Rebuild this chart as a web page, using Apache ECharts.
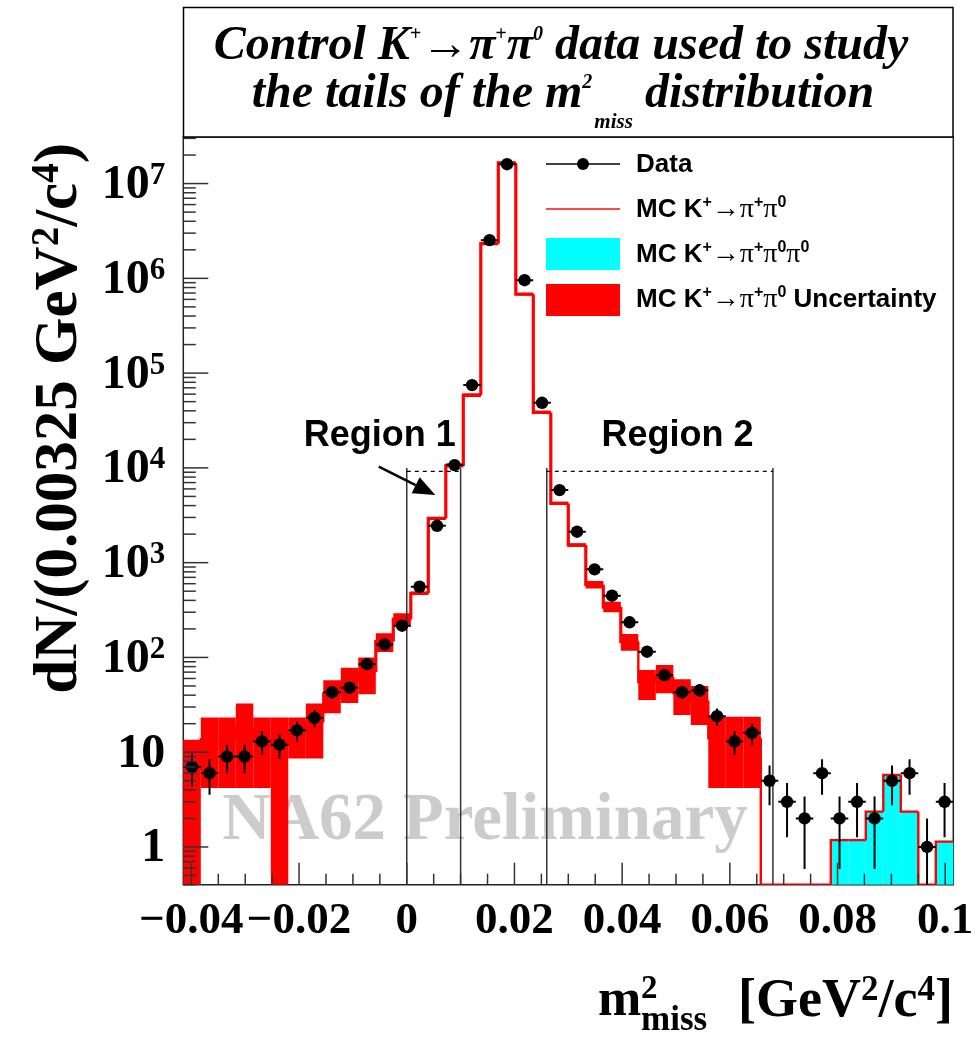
<!DOCTYPE html>
<html>
<head>
<meta charset="utf-8">
<title>NA62 K+ -> pi+ pi0 control data: m2_miss tails</title>
<script src="https://cdn.jsdelivr.net/npm/echarts@6/dist/echarts.min.js"></script>
<style>
  html, body { margin: 0; padding: 0; background: #ffffff; }
  #chart { width: 975px; height: 1037px; }
</style>
</head>
<body>
<div id="chart"></div>
<script>
// ---- Histogram binning (m2_miss, GeV^2/c^4) ----
const BIN_WIDTH = 0.00325;
const X_MIN = -0.0415;
const N_BINS = 44;
const X_MAX = X_MIN + N_BINS * BIN_WIDTH;
const Y_MIN = 0.4;
const Y_MAX = 3.1e7;

// ---- Data: entries per bin ----
const dataCounts = [
  7, 6, 9, 9, 13, 12, 17, 23, 43, 48,
  85, 137, 216, 557, 2450, 10700, 74700, 2530000, 16000000, 956000,
  48600, 5830, 2120, 850, 448, 235, 115, 65, 43, 45,
  24, 13, 16, 5, 3, 2, 6, 2, 3, 2,
  5, 6, 1, 3
];

// ---- MC K+ -> pi+ pi0 (central value per bin) ----
const mcPiPi0 = [
  6.5, 13.7, 13.7, 18.4, 13.7, 11.7, 16, 20.6, 41.6, 55,
  70, 147, 252, 475, 2930, 10500, 58600, 2330000, 16500000, 680000,
  38500, 4220, 1535, 585, 340, 147, 55, 62, 42, 35,
  14, 14, 14, 0, 0, 0, 0, 0, 0, 0,
  0, 0, 0, 0
];

// ---- MC K+ -> pi+ pi0 uncertainty band (lower / upper edge) ----
const mcUncLow = [
  0.1, 4.2, 4.2, 4.2, 4.2, 0.1, 8.6, 8.6, 25.7, 33,
  41, 114, 212, 455, 2850, 10200, 56000, 2250000, 16000000, 660000,
  37000, 4050, 1470, 535, 299, 118, 35.5, 41.8, 24.7, 19.4,
  4.2, 4.2, 4.2, 0, 0, 0, 0, 0, 0, 0,
  0, 0, 0, 0
];
const mcUncHigh = [
  13.5, 23.3, 23.3, 32.6, 23.3, 23.3, 23.3, 32.6, 57.6, 78,
  100, 180, 293, 495, 3010, 11200, 61000, 2410000, 17000000, 700000,
  40000, 4400, 1600, 640, 387, 177, 73.6, 83, 58.7, 49.9,
  23.7, 23.7, 23.7, 0, 0, 0, 0, 0, 0, 0,
  0, 0, 0, 0
];

// ---- MC K+ -> pi+ pi0 pi0 ----
const mcPiPi0Pi0 = [
  0, 0, 0, 0, 0, 0, 0, 0, 0, 0,
  0, 0, 0, 0, 0, 0, 0, 0, 0, 0,
  0, 0, 0, 0, 0, 0, 0, 0, 0, 0,
  0, 0, 0, 0, 0, 0, 0, 1.18, 1.18, 2.36,
  5.75, 2.36, 0, 1.14
];

// ---- Axis tick labels ----
const xTickLabels = [-0.04, -0.02, 0, 0.02, 0.04, 0.06, 0.08, 0.1];
const yTickLabels = [1, 10, 100, 1000, 10000, 100000, 1000000, 10000000];

// ---- Signal-region boundaries ----
const regionBounds = [[0, 0.01], [0.026, 0.068]];
const regionNames = ['Region 1', 'Region 2'];
const regionLabelPos = [[-0.005, 21600], [0.0503, 21600]];
const regionTop = 10000;
const regionDash = 9200;
const arrowFrom = [-0.0052, 10300];
const arrowTo = [0.0053, 5160];

// ---- Styling ----
const SERIF = '"Liberation Serif", "Times New Roman", Times, serif';
const SANS = '"Liberation Sans", Arial, Helvetica, sans-serif';
const RED = '#ff0000';
const CYAN = '#00ffff';

function binLo(i) { return X_MIN + i * BIN_WIDTH; }
function binHi(i) { return X_MIN + (i + 1) * BIN_WIDTH; }
function binCenter(i) { return X_MIN + (i + 0.5) * BIN_WIDTH; }

function pxX(api, x) { return api.coord([x, 1])[0]; }
function pxY(api, cs, v) {
  const bottom = cs.y + cs.height;
  if (!(v > 0)) return bottom;
  const p = api.coord([X_MIN, v])[1];
  return Math.max(cs.y, Math.min(bottom, p));
}

const mcTotal = mcPiPi0.map((v, i) => v + mcPiPi0Pi0[i]);

// Log-axis ticks: decades (major) and 2..9 (minor)
const yTicks = [];
for (let e = -1; e <= 7; e++) {
  for (let k = 1; k <= 9; k++) {
    const v = k * Math.pow(10, e);
    if (v >= Y_MIN * 0.999 && v <= Y_MAX) yTicks.push([X_MIN, v, k === 1 ? 1 : 0]);
  }
}
// Linear x ticks every 0.005, major every 0.02
const xTicks = [];
for (let j = -8; j <= 20; j++) {
  const v = j * 0.005;
  if (v >= X_MIN && v <= X_MAX) xTicks.push([v, Y_MIN, (j % 4 === 0) ? 1 : 0]);
}

const chart = echarts.init(document.getElementById('chart'), null, { renderer: 'canvas' });

const titleFont = { fontFamily: SERIF, fontStyle: 'italic', fontWeight: 'bold', fill: '#000' };
const legendRich = {
  a: { fontSize: 26, fontFamily: SANS, fontWeight: 'bold', fill: '#000', lineHeight: 30 },
  g: { fontSize: 28, fontFamily: SERIF, fill: '#000', lineHeight: 30 },
  s: { fontSize: 16, fontFamily: SANS, fontWeight: 'bold', fill: '#000', verticalAlign: 'top', lineHeight: 30 }
};

const option = {
  animation: false,
  backgroundColor: '#ffffff',
  grid: {
    left: 183.3, right: 21.7, top: 137, bottom: 152.3,
    show: true, borderColor: '#222', borderWidth: 1.5, backgroundColor: 'transparent'
  },
  xAxis: {
    type: 'value', min: X_MIN, max: X_MAX,
    axisLine: { show: false }, axisTick: { show: false },
    axisLabel: { show: false }, splitLine: { show: false }
  },
  yAxis: {
    type: 'log', logBase: 10, min: Y_MIN, max: Y_MAX,
    axisLine: { show: false }, axisTick: { show: false },
    axisLabel: { show: false }, splitLine: { show: false }
  },
  graphic: [
    // Watermark
    {
      type: 'text', z: 1, silent: true,
      x: 485, y: 822,
      style: {
        text: 'NA62 Preliminary', fill: '#cccccc',
        font: 'bold 67px ' + SERIF, align: 'center', verticalAlign: 'middle'
      }
    },
    // Title box
    {
      type: 'rect', z: 20, silent: true,
      shape: { x: 183.5, y: 7.5, width: 769.5, height: 129.5 },
      style: { fill: '#ffffff', stroke: '#000', lineWidth: 1.5 }
    },
    {
      type: 'text', z: 21, silent: true, x: 561, y: 47,
      style: {
        text: '{t|Control K}{s|+}{t|\u2192\u03c0}{s|+}{t|\u03c0}{s|0}{t| data used to study}',
        align: 'center', verticalAlign: 'middle',
        rich: {
          t: Object.assign({ fontSize: 48, lineHeight: 56 }, titleFont),
          s: Object.assign({ fontSize: 20, lineHeight: 56, verticalAlign: 'top', padding: [6, 0, 0, 0] }, titleFont)
        }
      }
    },
    {
      type: 'text', z: 21, silent: true, x: 563, y: 95,
      style: {
        text: '{t|the tails of the m}{s|2}{b|miss}{t| distribution}',
        align: 'center', verticalAlign: 'middle',
        rich: {
          t: Object.assign({ fontSize: 48, lineHeight: 56 }, titleFont),
          s: Object.assign({ fontSize: 20, lineHeight: 56, verticalAlign: 'top', padding: [16, 2, 0, 0] }, titleFont),
          b: Object.assign({ fontSize: 21, lineHeight: 76, verticalAlign: 'bottom' }, titleFont)
        }
      }
    },
    // Y axis title
    {
      type: 'text', z: 21, silent: true, x: 60, y: 143, rotation: Math.PI / 2,
      style: {
        text: '{t|dN/(0.00325 GeV}{sup|2}{t|/c}{sup|4}{t|)}',
        align: 'right', verticalAlign: 'middle',
        rich: {
          t: { fontSize: 61, fontFamily: SERIF, fontWeight: 'bold', fill: '#000', lineHeight: 64 },
          sup: { fontSize: 39, fontFamily: SERIF, fontWeight: 'bold', fill: '#000', verticalAlign: 'top', lineHeight: 64 }
        }
      }
    },
    // X axis title
    {
      type: 'text', z: 21, silent: true, x: 598, y: 1002,
      style: { text: 'm', font: 'bold 52px ' + SERIF, fill: '#000', align: 'left', verticalAlign: 'middle' }
    },
    {
      type: 'text', z: 21, silent: true, x: 641, y: 989,
      style: { text: '2', font: 'bold 33px ' + SERIF, fill: '#000', align: 'left', verticalAlign: 'middle' }
    },
    {
      type: 'text', z: 21, silent: true, x: 641, y: 1021,
      style: { text: 'miss', font: 'bold 35px ' + SERIF, fill: '#000', align: 'left', verticalAlign: 'middle' }
    },
    {
      type: 'text', z: 21, silent: true, x: 953, y: 1002,
      style: {
        text: '{t|[GeV}{sup|2}{t|/c}{sup|4}{t|]}',
        align: 'right', verticalAlign: 'middle',
        rich: {
          t: { fontSize: 54, fontFamily: SERIF, fontWeight: 'bold', fill: '#000', lineHeight: 58 },
          sup: { fontSize: 35, fontFamily: SERIF, fontWeight: 'bold', fill: '#000', verticalAlign: 'top', lineHeight: 58 }
        }
      }
    },
    // Legend
    { type: 'line', z: 21, silent: true, shape: { x1: 546, y1: 164, x2: 620, y2: 164 }, style: { stroke: '#000', lineWidth: 1.5 } },
    { type: 'circle', z: 21, silent: true, shape: { cx: 583, cy: 164, r: 6 }, style: { fill: '#000' } },
    { type: 'line', z: 21, silent: true, shape: { x1: 546, y1: 209, x2: 620, y2: 209 }, style: { stroke: '#ff4a4a', lineWidth: 2 } },
    { type: 'rect', z: 21, silent: true, shape: { x: 546, y: 238, width: 74, height: 32 }, style: { fill: CYAN } },
    { type: 'rect', z: 21, silent: true, shape: { x: 546, y: 284, width: 74, height: 32 }, style: { fill: RED } },
    {
      type: 'text', z: 21, silent: true, x: 636, y: 165,
      style: { text: 'Data', font: 'bold 26px ' + SANS, fill: '#000', align: 'left', verticalAlign: 'middle' }
    },
    {
      type: 'text', z: 21, silent: true, x: 636, y: 210,
      style: { text: '{a|MC K}{s|+}{g|\u2192\u03c0}{s|+}{g|\u03c0}{s|0}', align: 'left', verticalAlign: 'middle', rich: legendRich }
    },
    {
      type: 'text', z: 21, silent: true, x: 636, y: 255,
      style: { text: '{a|MC K}{s|+}{g|\u2192\u03c0}{s|+}{g|\u03c0}{s|0}{g|\u03c0}{s|0}', align: 'left', verticalAlign: 'middle', rich: legendRich }
    },
    {
      type: 'text', z: 21, silent: true, x: 636, y: 300,
      style: { text: '{a|MC K}{s|+}{g|\u2192\u03c0}{s|+}{g|\u03c0}{s|0}{a| Uncertainty}', align: 'left', verticalAlign: 'middle', rich: legendRich }
    }
  ],
  series: [
    // MC K+ -> pi+ pi0 pi0 (filled histogram)
    {
      type: 'custom', name: 'MC K+ -> pi+ pi0 pi0', z: 2, clip: true, silent: true,
      data: mcPiPi0Pi0.map((v, i) => [binCenter(i), v]),
      renderItem(params, api) {
        const i = params.dataIndex, cs = params.coordSys;
        const v = api.value(1);
        if (!(v > 0)) return null;
        const x0 = pxX(api, binLo(i)), x1 = pxX(api, binHi(i));
        const y0 = pxY(api, cs, v), y1 = cs.y + cs.height;
        return { type: 'rect', shape: { x: x0, y: y0, width: x1 - x0, height: y1 - y0 }, style: { fill: CYAN } };
      }
    },
    // MC uncertainty band
    {
      type: 'custom', name: 'MC K+ -> pi+ pi0 Uncertainty', z: 3, clip: true, silent: true,
      data: mcUncLow.map((lo, i) => [binCenter(i), lo, mcUncHigh[i]]),
      renderItem(params, api) {
        const i = params.dataIndex, cs = params.coordSys;
        const lo = api.value(1), hi = api.value(2);
        if (!(hi > 0)) return null;
        const x0 = pxX(api, binLo(i)), x1 = pxX(api, binHi(i));
        const y0 = pxY(api, cs, hi), y1 = pxY(api, cs, lo);
        return { type: 'rect', shape: { x: x0, y: y0, width: x1 - x0, height: Math.max(y1 - y0, 0) }, style: { fill: RED } };
      }
    },
    // MC step outline
    {
      type: 'custom', name: 'MC K+ -> pi+ pi0', z: 4, clip: true, silent: true,
      data: mcTotal.map((v, i) => [binCenter(i), v]),
      renderItem(params, api) {
        const i = params.dataIndex, cs = params.coordSys;
        const x0 = pxX(api, binLo(i)), x1 = pxX(api, binHi(i));
        const y = pxY(api, cs, api.value(1));
        const pts = [];
        if (i > 0) pts.push([x0, pxY(api, cs, mcTotal[i - 1])]);
        pts.push([x0, y], [x1, y]);
        const w = api.value(1) >= 100 ? 3.2 : 2.4;
        return {
          type: 'polyline', shape: { points: pts },
          style: { stroke: RED, lineWidth: w, fill: null, lineJoin: 'miter' }
        };
      }
    },
    // Region boundaries
    {
      type: 'custom', name: 'Regions', z: 5, clip: true, silent: true,
      data: regionBounds.map(b => [b[0], regionTop, b[1]]),
      renderItem(params, api) {
        const cs = params.coordSys;
        const xa = pxX(api, api.value(0)), xb = pxX(api, api.value(2));
        const yTop = pxY(api, cs, api.value(1));
        const yDash = pxY(api, cs, regionDash);
        const bottom = cs.y + cs.height;
        const ln = { stroke: '#333', lineWidth: 1.5 };
        return {
          type: 'group', children: [
            { type: 'line', shape: { x1: xa, y1: bottom, x2: xa, y2: yTop }, style: ln },
            { type: 'line', shape: { x1: xb, y1: bottom, x2: xb, y2: yTop }, style: ln },
            { type: 'line', shape: { x1: xa, y1: yDash, x2: xb, y2: yDash }, style: { stroke: '#000', lineWidth: 1.2, lineDash: [4, 4] } }
          ]
        };
      }
    },
    // Region labels and arrow
    {
      type: 'custom', name: 'Region labels', z: 7, clip: false, silent: true,
      data: regionLabelPos.map((p, i) => [p[0], p[1], i]),
      renderItem(params, api) {
        const p = api.coord([api.value(0), api.value(1)]);
        const idx = api.value(2);
        const children = [{
          type: 'text', x: p[0], y: p[1],
          style: { text: regionNames[idx], font: 'bold 36px ' + SANS, fill: '#000', align: 'center', verticalAlign: 'middle' }
        }];
        if (idx === 0) {
          const a = api.coord(arrowFrom), b = api.coord(arrowTo);
          const dx = b[0] - a[0], dy = b[1] - a[1];
          const len = Math.sqrt(dx * dx + dy * dy);
          const ux = dx / len, uy = dy / len;
          const hl = 22, hw = 9;
          const bx = b[0] - ux * hl, by = b[1] - uy * hl;
          children.push(
            { type: 'line', shape: { x1: a[0], y1: a[1], x2: bx, y2: by }, style: { stroke: '#000', lineWidth: 2.5 } },
            { type: 'polygon', shape: { points: [[b[0], b[1]], [bx - uy * hw, by + ux * hw], [bx + uy * hw, by - ux * hw]] }, style: { fill: '#000' } }
          );
        }
        return { type: 'group', children };
      }
    },
    // Data with Poisson errors
    {
      type: 'custom', name: 'Data', z: 8, clip: true, silent: true,
      data: dataCounts.map((v, i) => [binCenter(i), v]),
      renderItem(params, api) {
        const i = params.dataIndex, cs = params.coordSys;
        const n = api.value(1);
        const err = Math.sqrt(n);
        const x0 = pxX(api, binLo(i)), x1 = pxX(api, binHi(i));
        const xc = pxX(api, binCenter(i));
        const yc = pxY(api, cs, n);
        const yHi = pxY(api, cs, n + err), yLo = pxY(api, cs, n - err);
        const st = { stroke: '#000', lineWidth: 2 };
        return {
          type: 'group', children: [
            { type: 'line', shape: { x1: x0, y1: yc, x2: x1, y2: yc }, style: st },
            { type: 'line', shape: { x1: xc, y1: yHi, x2: xc, y2: yLo }, style: st },
            { type: 'circle', shape: { cx: xc, cy: yc, r: 6.2 }, style: { fill: '#000' } }
          ]
        };
      }
    },
    // Y ticks (inside frame)
    {
      type: 'custom', name: 'yTicks', z: 9, clip: false, silent: true,
      data: yTicks,
      renderItem(params, api) {
        const cs = params.coordSys;
        const y = api.coord([X_MIN, api.value(1)])[1];
        const len = api.value(2) ? 25 : 12.5;
        return { type: 'line', shape: { x1: cs.x, y1: y, x2: cs.x + len, y2: y }, style: { stroke: '#333', lineWidth: 1.5 } };
      }
    },
    // X ticks (inside frame)
    {
      type: 'custom', name: 'xTicks', z: 9, clip: false, silent: true,
      data: xTicks,
      renderItem(params, api) {
        const cs = params.coordSys;
        const x = pxX(api, api.value(0));
        const b = cs.y + cs.height;
        const len = api.value(2) ? 22 : 11;
        return { type: 'line', shape: { x1: x, y1: b, x2: x, y2: b - len }, style: { stroke: '#333', lineWidth: 1.5 } };
      }
    },
    // X tick labels
    {
      type: 'custom', name: 'xLabels', z: 9, clip: false, silent: true,
      data: xTickLabels.map(v => [v, Y_MIN]),
      renderItem(params, api) {
        const cs = params.coordSys;
        const v = api.value(0);
        const x = pxX(api, v);
        const txt = v < 0 ? '\u2212' + String(-v) : String(v);
        return {
          type: 'text', x: x, y: cs.y + cs.height + 37,
          style: { text: txt, font: 'bold 45px ' + SERIF, fill: '#000', align: 'center', verticalAlign: 'middle' }
        };
      }
    },
    // Y tick labels
    {
      type: 'custom', name: 'yLabels', z: 9, clip: false, silent: true,
      data: yTickLabels.map(v => [X_MIN, v]),
      renderItem(params, api) {
        const cs = params.coordSys;
        const v = api.value(1);
        const y = api.coord([X_MIN, v])[1];
        const e = Math.round(Math.log10(v));
        const txt = e === 0 ? '{t|1}' : (e === 1 ? '{t|10}' : '{t|10}{sup|' + e + '}');
        return {
          type: 'text', x: cs.x - 18, y: y + 2,
          style: {
            text: txt, align: 'right', verticalAlign: 'middle',
            rich: {
              t: { fontSize: 48, fontFamily: SERIF, fontWeight: 'bold', fill: '#000', lineHeight: 50 },
              sup: { fontSize: 31, fontFamily: SERIF, fontWeight: 'bold', fill: '#000', verticalAlign: 'top', lineHeight: 50 }
            }
          }
        };
      }
    }
  ]
};

chart.setOption(option);
</script>
</body>
</html>
